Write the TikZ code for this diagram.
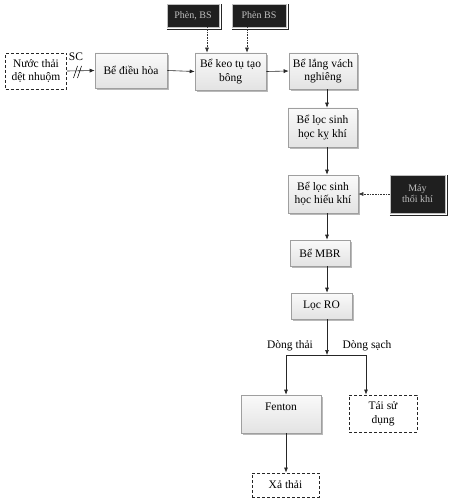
\documentclass[tikz,border=0pt]{standalone}
\usepackage{fontspec}
\setmainfont{Liberation Serif}
\usetikzlibrary{arrows.meta,shadows,calc}
\begin{document}
\begin{tikzpicture}[x=1pt,y=1pt,
  proc/.style={draw=gray!75, line width=0.6pt, top color=gray!4, bottom color=gray!22,
    drop shadow={shadow xshift=1.6pt, shadow yshift=-1.6pt, fill=gray!55, opacity=1},
    align=center, font=\fontsize{11.5}{13.5}\selectfont, inner sep=1pt},
  term/.style={draw=black!85, line width=0.9pt, dash pattern=on 3pt off 2pt, fill=white,
    align=center, font=\fontsize{11.5}{13.5}\selectfont, inner sep=1pt},
  chem/.style={fill=black!88, draw=gray!50, line width=0.4pt, text=gray!50,
    align=center, font=\fontsize{10}{11}\selectfont, inner sep=1pt},
  arr/.style={-{Latex[length=5pt,width=4pt]}, line width=0.6pt, draw=black!85},
  darr/.style={-{Latex[length=5pt,width=4pt]}, line width=0.6pt, draw=black!80, densely dotted},
  lbl/.style={font=\fontsize{11.5}{13.5}\selectfont, inner sep=0pt}
]
\useasboundingbox (0,0) rectangle (450,-500);

% nodes
\node[term, minimum width=61, minimum height=36] (src) at (36,-71) {Nước thải\\dệt nhuộm};
\node[proc, minimum width=72, minimum height=35] (dh) at (131,-70.5) {Bể điều hòa};
\node[proc, minimum width=71, minimum height=37] (kt) at (230.5,-71.5) {Bể keo tụ tạo\\bông};
\node[proc, minimum width=68, minimum height=36] (lang) at (323,-71) {Bể lắng vách\\nghiêng};
\node[proc, minimum width=69, minimum height=39] (kk) at (322.5,-127.5) {Bể lọc sinh\\học kỵ khí};
\node[proc, minimum width=70, minimum height=38] (hk) at (323,-194) {Bể lọc sinh\\học hiếu khí};
\node[proc, minimum width=60, minimum height=26] (mbr) at (320,-253) {Bể MBR};
\node[proc, minimum width=61, minimum height=26] (ro) at (321.5,-306) {Lọc RO};
\node[proc, minimum width=80, minimum height=38, text depth=14pt] (fen) at (281,-414) {Fenton};
\node[term, minimum width=68, minimum height=37] (reuse) at (383,-413.5) {Tái sử\\dụng};
\node[term, minimum width=67, minimum height=24] (xa) at (285.5,-485) {Xả thải};

\node[chem, minimum width=52, minimum height=23] (c1) at (193,-15.5) {Phèn, BS};
\node[chem, minimum width=54, minimum height=23] (c2) at (259,-15.5) {Phèn BS};
\node[chem, minimum width=55, minimum height=38] (c3) at (417.5,-194) {Máy\\thổi khí};

% frames around dark boxes
\foreach \b in {c1,c2,c3}{
  \draw[line width=0.7pt, black!85] ([yshift=-2.2pt]\b.south west) -- ([shift={(2.2pt,-2.2pt)}]\b.south east) -- ([xshift=2.2pt]\b.north east);
}

% connectors
\draw[arr] (src.east) -- (dh.west);
\node[lbl] (sc) at (76,-57) {SC};
\coordinate (sl) at (78,-72);
\draw[line width=0.6pt] ($(sl)+(-4.5,-6)$) -- ($(sl)+(-0.5,6)$);
\draw[line width=0.6pt] ($(sl)+(-0.5,-6)$) -- ($(sl)+(3.5,6)$);

\draw[arr] (dh.east) -- (kt.west);
\draw[arr] (kt.east) -- (lang.west);

\coordinate (colx) at (327,0);
\draw[arr] (lang.south -| colx) -- (kk.north -| colx);
\draw[arr] (kk.south -| colx) -- (hk.north -| colx);
\draw[arr] (hk.south -| colx) -- (mbr.north -| colx);
\draw[arr] (mbr.south -| colx) -- (ro.north -| colx);

\coordinate (j) at (327,-355);
\coordinate (jl) at (286,-355);
\coordinate (jr) at (366,-355);
\draw[arr] (ro.south -| j) -- (j);
\draw[line width=0.6pt, black!85] (jl) -- (jr);
\draw[arr] (jl) -- (fen.north -| jl);
\draw[arr] (jr) -- (reuse.north -| jr);
\draw[arr] (fen.south -| jl) -- (xa.north -| jl);

\node[lbl] (l1) at (290,-346) {Dòng thải};
\node[lbl] (l2) at (367,-346) {Dòng sạch};

\coordinate (d1) at (207,0);
\coordinate (d2) at (247,0);
\draw[darr] (c1.south -| d1) -- (kt.north -| d1);
\draw[darr] (c2.south -| d2) -- (kt.north -| d2);
\draw[darr] (c3.west) -- (hk.east |- c3.west);
\end{tikzpicture}
\end{document}
